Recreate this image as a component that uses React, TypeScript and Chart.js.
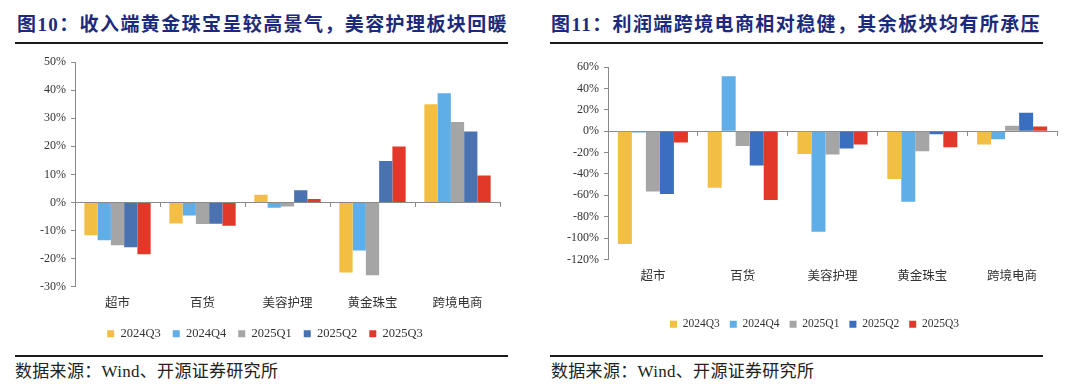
import React, { useEffect, useRef } from "react";
import { Chart, registerables } from "chart.js";

Chart.register(...registerables);

const categories = ["超市", "百货", "美容护理", "黄金珠宝", "跨境电商"];
const seriesNames = ["2024Q3", "2024Q4", "2025Q1", "2025Q2", "2025Q3"];

// 图10 收入端增速 (%)
const rev2024Q3 = [-11.7, -7.5, 2.7, -25.0, 35.0];
const rev2024Q4 = [-13.5, -4.7, -1.9, -17.2, 38.9];
const rev2025Q1 = [-15.3, -7.7, -1.5, -26.0, 28.7];
const rev2025Q2 = [-16.0, -7.6, 4.3, 14.8, 25.3];
const rev2025Q3 = [-18.5, -8.3, 1.2, 19.9, 9.6];

// 图11 利润端增速 (%)
const prof2024Q3 = [-105.5, -52.8, -21.3, -44.7, -12.5];
const prof2024Q4 = [-1.2, 51.3, -94.0, -65.9, -7.5];
const prof2025Q1 = [-56.3, -13.8, -21.9, -18.8, 5.0];
const prof2025Q2 = [-58.8, -32.2, -16.3, -2.8, 17.2];
const prof2025Q3 = [-10.6, -64.4, -12.5, -15.0, 4.4];

const leftColors = ["#F2BF44", "#5FAEE8", "#A5A5A5", "#4A72B0", "#E2382A"];
const rightColors = ["#F2BF44", "#5FAEE8", "#A5A5A5", "#3A6EBF", "#E2382A"];

const FONT = "'Liberation Serif', 'Noto Sans CJK SC', serif";
const AXIS = "#8a8a8a";
const TXT = "#333333";

type PanelCfg = {
  series: number[][];
  colors: string[];
  min: number;
  max: number;
  step: number;
  yWidth: number;
  yRightWidth: number;
  pad: { left: number; top: number; right: number; bottom: number };
  xHeight: number;
  xPad: number;
  legendFont: number;
  legendPad: number;
};

function BarPanel({ cfg }: { cfg: PanelCfg }) {
  const ref = useRef<HTMLCanvasElement | null>(null);
  useEffect(() => {
    if (!ref.current) return;
    const chart = new Chart(ref.current, {
      type: "bar",
      data: {
        labels: categories,
        datasets: seriesNames.map((name, i) => ({
          label: name,
          data: cfg.series[i],
          backgroundColor: cfg.colors[i],
          borderWidth: 0,
          barPercentage: 1,
          categoryPercentage: 0.78,
          xAxisID: "x",
          yAxisID: "y",
        })),
      },
      options: {
        animation: false,
        responsive: false,
        maintainAspectRatio: false,
        layout: { padding: cfg.pad },
        plugins: {
          tooltip: { enabled: false },
          legend: {
            position: "bottom",
            labels: {
              boxWidth: 7,
              boxHeight: 7,
              padding: cfg.legendPad,
              color: TXT,
              font: { family: FONT, size: cfg.legendFont },
            },
          },
        },
        scales: {
          x: {
            type: "category",
            position: "bottom",
            grid: { display: false, drawTicks: false },
            border: { display: false },
            ticks: { color: TXT, padding: cfg.xPad, font: { family: FONT, size: 12.5 }, maxRotation: 0 },
            afterFit: (s: any) => {
              s.height = cfg.xHeight;
            },
          },
          x2: {
            type: "category",
            position: { y: 0 } as any,
            labels: categories,
            grid: {
              display: true,
              drawOnChartArea: false,
              drawTicks: true,
              tickLength: 4,
              color: AXIS,
              offset: true,
            },
            border: { display: true, color: AXIS, width: 1 },
            ticks: { display: false },
          },
          y: {
            min: cfg.min,
            max: cfg.max,
            ticks: {
              stepSize: cfg.step,
              color: TXT,
              padding: 5,
              font: { family: FONT, size: 12 },
              callback: (v: any) => `${v}%`,
            },
            grid: { display: true, drawOnChartArea: false, drawTicks: true, tickLength: 4, color: AXIS },
            border: { display: true, color: AXIS, width: 1 },
            afterFit: (s: any) => {
              s.width = cfg.yWidth;
            },
          },
          yR: {
            type: "linear",
            position: "right",
            min: cfg.min,
            max: cfg.max,
            grid: { display: false, drawTicks: false },
            border: { display: false },
            ticks: { display: false },
            afterFit: (s: any) => {
              s.width = cfg.yRightWidth;
            },
          },
        },
      } as any,
    });
    return () => chart.destroy();
  }, [cfg]);
  return <canvas ref={ref} width={540} height={300} style={{ width: 540, height: 300, display: "block" }} />;
}

const leftCfg: PanelCfg = {
  series: [rev2024Q3, rev2024Q4, rev2025Q1, rev2025Q2, rev2025Q3],
  colors: leftColors,
  min: -30,
  max: 50,
  step: 10,
  yWidth: 75,
  yRightWidth: 30,
  pad: { left: 0, top: 10, right: 10, bottom: 0 },
  xHeight: 29,
  xPad: 10,
  legendFont: 12.5,
  legendPad: 12,
};

const rightCfg: PanelCfg = {
  series: [prof2024Q3, prof2024Q4, prof2025Q1, prof2025Q2, prof2025Q3],
  colors: rightColors,
  min: -120,
  max: 60,
  step: 20,
  yWidth: 59,
  yRightWidth: 23,
  pad: { left: 9, top: 17, right: 0, bottom: 10 },
  xHeight: 49,
  xPad: 10,
  legendFont: 11.5,
  legendPad: 10,
};

const titleStyle: React.CSSProperties = {
  position: "absolute",
  top: 12,
  fontFamily: FONT,
  fontWeight: "bold",
  fontSize: 19,
  color: "#1d2a7c",
  whiteSpace: "nowrap",
  lineHeight: "26px",
  letterSpacing: 1.4,
};

const sourceStyle: React.CSSProperties = {
  position: "absolute",
  top: 362,
  fontFamily: FONT,
  fontSize: 17,
  letterSpacing: 0.3,
  color: "#222",
  whiteSpace: "nowrap",
  lineHeight: "20px",
};

function rule(left: number, top: number, width: number): React.CSSProperties {
  return { position: "absolute", left, top, width, height: 2, background: "#1a1a1a" };
}

export default function App() {
  return (
    <div style={{ position: "absolute", left: 0, top: 0, width: 1080, height: 391, background: "#fff", overflow: "hidden" }}>
      <div style={{ ...titleStyle, left: 17 }}>图10：收入端黄金珠宝呈较高景气，美容护理板块回暖</div>
      <div style={rule(15, 42, 493)} />
      <div style={{ position: "absolute", left: 0, top: 50 }}>
        <BarPanel cfg={leftCfg} />
      </div>
      <div style={rule(15, 355, 493)} />
      <div style={{ ...sourceStyle, left: 15 }}>数据来源：Wind、开源证券研究所</div>

      <div style={{ ...titleStyle, left: 551 }}>图11：利润端跨境电商相对稳健，其余板块均有所承压</div>
      <div style={rule(550, 42, 493)} />
      <div style={{ position: "absolute", left: 540, top: 50 }}>
        <BarPanel cfg={rightCfg} />
      </div>
      <div style={rule(550, 355, 493)} />
      <div style={{ ...sourceStyle, left: 551 }}>数据来源：Wind、开源证券研究所</div>
    </div>
  );
}
